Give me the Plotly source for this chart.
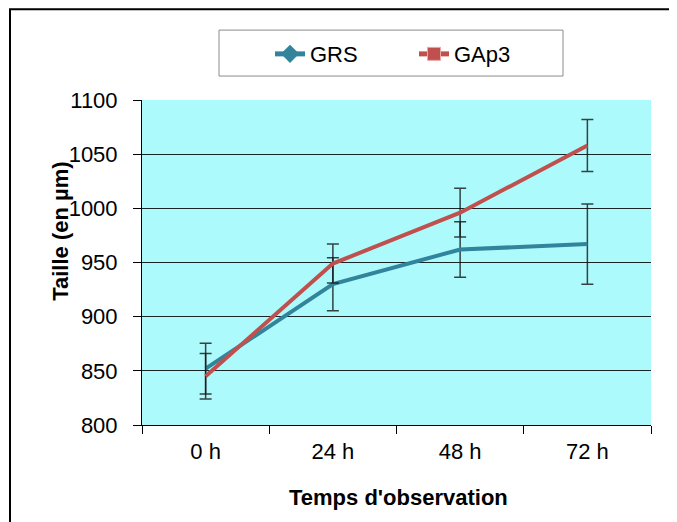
import plotly.graph_objects as go

categories = ["0 h", "24 h", "48 h", "72 h"]
grs_values = [852, 930, 962, 967]
grs_errors = [23.5, 24.5, 25.7, 37]
gap3_values = [845, 949, 996, 1058]
gap3_errors = [21, 18, 22.5, 24]

# the page body adds an 8 px margin; compensate so the chart sits at the window origin
OFF = 8
W, H = 677 - OFF, 522 - OFF
L, R, T, B = 142 - OFF, 651 - OFF, 100 - OFF, 425.5 - OFF


def px(x):
    return (x - OFF - L) / (R - L)


def py(y):
    return (B - (y - OFF)) / (B - T)


teal = "#31849B"
red = "#C0504D"
err_col = "rgba(20,20,20,0.8)"

fig = go.Figure()
fig.add_trace(go.Scatter(
    x=categories, y=grs_values, mode="lines", name="GRS", showlegend=False,
    line=dict(color=teal, width=4),
    error_y=dict(type="data", array=grs_errors, visible=True, color=err_col, thickness=1.5, width=6),
))
fig.add_trace(go.Scatter(
    x=categories, y=gap3_values, mode="lines", name="GAp3", showlegend=False,
    line=dict(color=red, width=4),
    error_y=dict(type="data", array=gap3_errors, visible=True, color=err_col, thickness=1.5, width=6),
))
# legend-only entries with markers
fig.add_trace(go.Scatter(
    x=[None], y=[None], mode="lines+markers", name="GRS",
    line=dict(color=teal, width=5), marker=dict(symbol="diamond", size=14, color=teal),
))
fig.add_trace(go.Scatter(
    x=[None], y=[None], mode="lines+markers", name="GAp3",
    line=dict(color=red, width=5), marker=dict(symbol="square", size=13, color=red,
                                               line=dict(color="#E8A8A6", width=1)),
))

font = "Liberation Sans, Arial, sans-serif"

fig.update_layout(
    width=W, height=H,
    margin=dict(l=L, r=W - R, t=T, b=H - B),
    paper_bgcolor="white",
    plot_bgcolor="#ADFAFC",
    font=dict(family=font, size=22, color="black"),
    showlegend=True,
    legend=dict(
        orientation="h", x=px(270), y=py(54), xanchor="left", yanchor="middle",
        bgcolor="rgba(0,0,0,0)", borderwidth=0, entrywidth=99,
        font=dict(family=font, size=22, color="black"),
    ),
    xaxis=dict(
        type="category", range=[-0.5, 3.5],
        showline=True, linecolor="black", linewidth=1,
        ticks="outside", tickson="boundaries", ticklen=8, tickcolor="black",
        showgrid=False, ticklabelstandoff=7,
        tickfont=dict(family=font, size=22, color="black"),
    ),
    yaxis=dict(
        range=[800, 1100], dtick=50, tick0=800,
        showline=True, linecolor="black", linewidth=1,
        ticks="outside", ticklen=8, tickcolor="black",
        showgrid=True, gridcolor="rgba(0,0,0,0.85)", gridwidth=1,
        ticklabelstandoff=11,
        tickfont=dict(family=font, size=22, color="black"),
        zeroline=False,
    ),
    shapes=[
        # outer chart border
        dict(type="rect", xref="paper", yref="paper", x0=px(10), y0=py(700), x1=px(900), y1=py(9),
             line=dict(color="black", width=2), fillcolor="rgba(0,0,0,0)", layer="below"),
        # legend box
        dict(type="rect", xref="paper", yref="paper", x0=px(219), y0=py(76), x1=px(563), y1=py(30),
             line=dict(color="#8C8C8C", width=1), fillcolor="white", layer="below"),
    ],
    annotations=[
        dict(text="<b>Taille (en µm)</b>", xref="paper", yref="paper", x=px(61), y=py(232),
             xanchor="center", yanchor="middle", textangle=-90, showarrow=False,
             font=dict(family=font, size=22, color="black")),
        dict(text="<b>Temps d'observation</b>", xref="paper", yref="paper", x=px(398), y=py(498),
             xanchor="center", yanchor="middle", showarrow=False,
             font=dict(family=font, size=22, color="black")),
    ],
)

fig.write_html("out.html")
